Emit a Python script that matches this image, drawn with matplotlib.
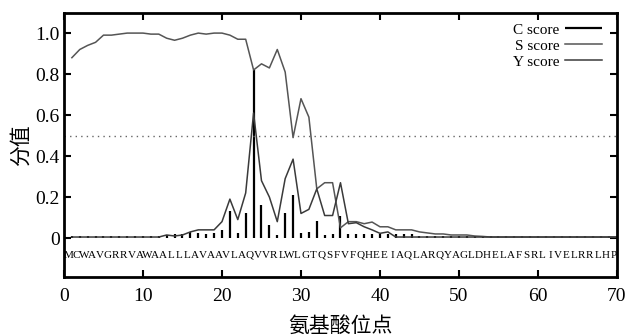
import numpy as np
import matplotlib
matplotlib.use("Agg")
import matplotlib.pyplot as plt

# SignalP-style prediction, 70 residues
sequence = "MCWAVGRRVAWAALLLAVAAVLAQVVRLWLGTQSFVFQHEEIAQLARQYAGLDHELAFSRLIVELRRLHP"
positions = np.arange(1, 71)

c_score = [0.012] * 12 + [
    0.015, 0.02, 0.02, 0.03, 0.025, 0.02, 0.025, 0.04, 0.13, 0.025,
    0.12, 0.82, 0.16, 0.063, 0.015, 0.12, 0.21, 0.026, 0.03, 0.083,
    0.015, 0.02, 0.11, 0.02, 0.02, 0.02, 0.02, 0.02, 0.02, 0.02,
    0.02, 0.02] + [0.012] * 26

s_score = [
    0.88, 0.92, 0.94, 0.955, 0.99, 0.99, 0.995, 1.0, 1.0, 1.0,
    0.995, 0.995, 0.975, 0.965, 0.975, 0.99, 1.0, 0.995, 1.0, 1.0,
    0.99, 0.97, 0.97, 0.82, 0.85, 0.83, 0.92, 0.81, 0.49, 0.68,
    0.59, 0.24, 0.27, 0.27, 0.05, 0.08, 0.08, 0.07, 0.078, 0.055,
    0.055, 0.04, 0.04, 0.04, 0.03, 0.025, 0.02, 0.02, 0.015, 0.015,
    0.015, 0.01, 0.008] + [0.005] * 17

y_score = [0.005] * 12 + [
    0.015, 0.01, 0.015, 0.03, 0.04, 0.04, 0.04, 0.08, 0.19, 0.09,
    0.22, 0.61, 0.28, 0.2, 0.08, 0.29, 0.385, 0.12, 0.14, 0.24,
    0.11, 0.11, 0.27, 0.07, 0.075, 0.055, 0.04, 0.023, 0.03] + [0.005] * 29

cutoff = 0.5

serif = "Liberation Serif"
cjk = ["Noto Sans CJK SC", "DejaVu Sans"]

fig = plt.figure(figsize=(6.26, 3.36), dpi=100)
ax = fig.add_axes([0.1022, 0.1756, 0.8834, 0.7857])

ax.vlines(positions, 0, c_score, colors="black", linewidth=1.6, label="C score")
ax.plot(positions, s_score, color="#555555", linewidth=1.1, label="S score")
ax.plot(positions, y_score, color="#3a3a3a", linewidth=1.1, label="Y score")
ax.plot([0, 70], [cutoff, cutoff], color="#666666", linestyle=(0, (1, 3)), linewidth=1.0)

# residue letters under the curve
for i, aa in enumerate(sequence):
    ax.text(positions[i] - 0.45, -0.083, aa, family=serif, fontsize=8,
            ha="center", va="center", clip_on=False)

ax.set_xlim(0, 70)
ax.set_ylim(-0.19, 1.098)
ax.set_xticks(range(0, 71, 10))
ax.set_yticks([0, 0.2, 0.4, 0.6, 0.8, 1.0])
ax.set_yticklabels(["0", "0.2", "0.4", "0.6", "0.8", "1.0"])

for lbl in ax.get_xticklabels() + ax.get_yticklabels():
    lbl.set_family(serif)
    lbl.set_fontsize(14)

ax.tick_params(axis="both", direction="in", length=5, width=1.5,
               top=True, right=True)
ax.tick_params(axis="x", pad=8)
ax.tick_params(axis="y", pad=3)

for sp in ax.spines.values():
    sp.set_linewidth(2)

ax.set_ylabel("分值", family=cjk, fontsize=15)
ax.yaxis.set_label_coords(-0.058, 0.5)
ax.set_xlabel("氨基酸位点", family=cjk, fontsize=15)
ax.xaxis.set_label_coords(0.5, -0.145)

leg = ax.legend(loc="upper right", bbox_to_anchor=(0.973, 0.962), frameon=False,
                markerfirst=False, prop={"family": serif, "size": 11},
                handlelength=2.4, handletextpad=0.4, labelspacing=0.15,
                borderpad=0, borderaxespad=0)

fig.savefig("out.png", dpi=100)
